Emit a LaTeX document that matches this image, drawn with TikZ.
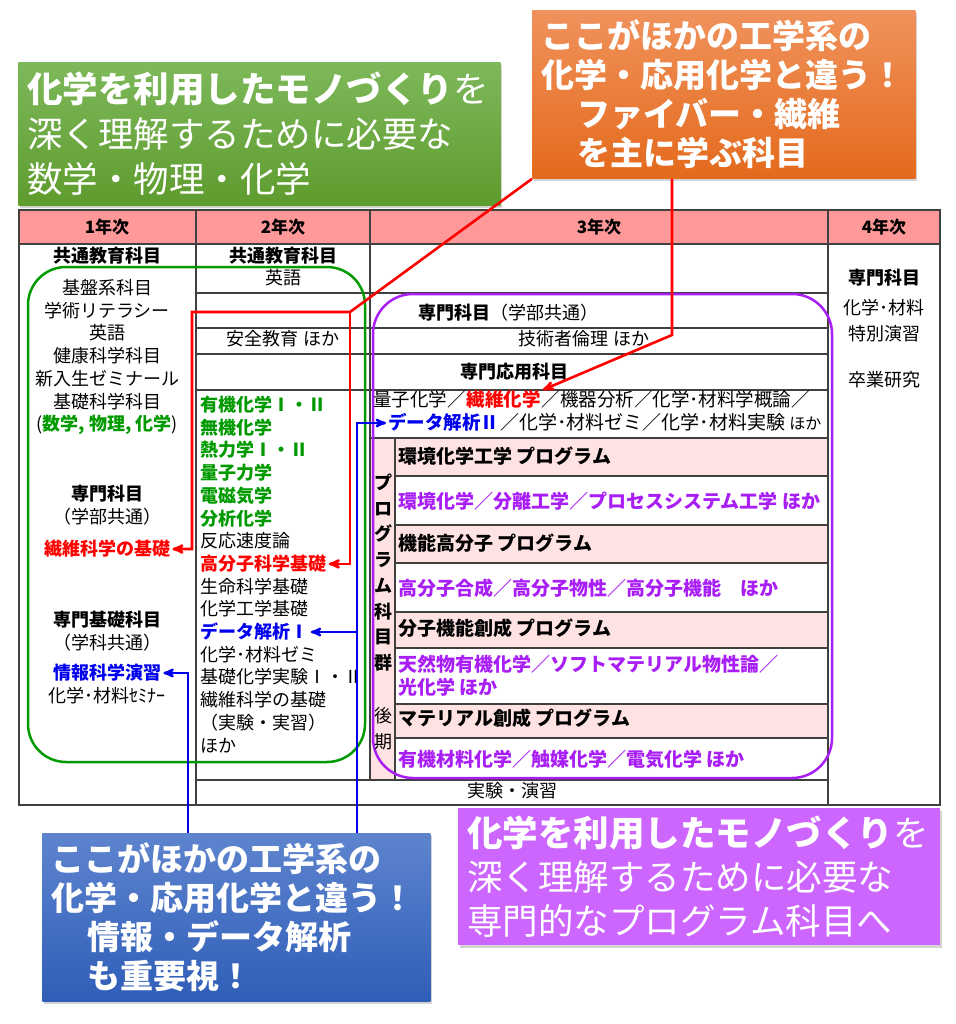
\documentclass[tikz,border=0pt]{standalone}
\usepackage{fontspec}
\setmainfont{Noto Sans CJK JP}
\usetikzlibrary{positioning}
\usetikzlibrary{shadows}
\usetikzlibrary{arrows}

\definecolor{hdrpink}{HTML}{FF9999}
\definecolor{rowpink}{HTML}{FFE3E3}
\definecolor{gridgray}{HTML}{404040}
\definecolor{kgreen}{HTML}{009A00}
\definecolor{kblue}{HTML}{0000EE}
\definecolor{kred}{HTML}{FF0000}
\definecolor{kpurple}{HTML}{A81EF5}
\definecolor{grtop}{HTML}{7DB85A}
\definecolor{grbot}{HTML}{5E9C2E}
\definecolor{ortop}{HTML}{F0925C}
\definecolor{orbot}{HTML}{E46A1C}
\definecolor{bltop}{HTML}{5E84CE}
\definecolor{blbot}{HTML}{2F5EB8}
\definecolor{kviolet}{HTML}{CC66FF}

\newcommand{\gb}[1]{\textbf{\color{kgreen}#1}}
\newcommand{\rb}[1]{\textbf{\color{kred}#1}}
\newcommand{\bb}[1]{\textbf{\color{kblue}#1}}

\begin{document}
\begin{tikzpicture}[x=1pt,y=-1pt,>=stealth',node distance=22.7pt,
	thick,
	entry/.style={font=\fontsize{18}{22}\selectfont,inner sep=0pt,text height=15.5pt,text depth=2.5pt},
	bold entry/.style={entry,font=\fontsize{18}{22}\selectfont\bfseries},
	head/.style={entry,font=\fontsize{17}{22}\selectfont\bfseries},
	list/.style={entry,anchor=west},
	prog/.style={entry,anchor=west,font=\fontsize{19}{22}\selectfont\bfseries},
	course/.style={prog,text=kpurple},
	grid/.style={draw=gridgray,line width=1.1pt},
	callout/.style={rectangle,text=white,align=left,inner xsep=9pt,inner ysep=0pt,
		anchor=north west,drop shadow={opacity=0.35,shadow xshift=2pt,shadow yshift=-3pt}},
	redline/.style={draw=kred,line width=2.6pt,shorten >=2pt},
	blueline/.style={draw=kblue,line width=2.4pt,shorten >=2pt}]

	\useasboundingbox (0,0) rectangle (955,1024);

	% table background
	\fill[hdrpink] (19,210) rectangle (940,244);
	\fill[rowpink] (370,438) rectangle (395,780);
	\fill[rowpink] (395,438) rectangle (828,476);
	\fill[rowpink] (395,525) rectangle (828,563);
	\fill[rowpink] (395,612) rectangle (828,648);
	\fill[rowpink] (395,704) rectangle (828,738);

	% table grid
	\draw[grid] (19,210) rectangle (940,805);
	\draw[grid] (19,244) -- (940,244);
	\draw[grid] (196,210) -- (196,805);
	\draw[grid] (370,210) -- (370,780);
	\draw[grid] (828,210) -- (828,805);
	\draw[grid] (196,780) -- (828,780);
	\draw[grid] (196,293) -- (828,293) (196,328) -- (828,328)
		(196,354) -- (828,354) (196,390) -- (828,390);
	\draw[grid] (370,438) -- (828,438);
	\draw[grid] (395,438) -- (395,780);
	\draw[grid] (395,476) -- (828,476) (395,525) -- (828,525)
		(395,563) -- (828,563) (395,612) -- (828,612)
		(395,648) -- (828,648) (395,704) -- (828,704)
		(395,738) -- (828,738);

	% rounded groups
	\draw[draw=kgreen,line width=2.5pt,rounded corners=38pt] (28,267) rectangle (365,762);
	\draw[draw=kpurple,line width=2.5pt,rounded corners=40pt] (373,294) rectangle (832,778);

	% header
	\node[head] (h1) at (107,227) {1年次};
	\node[head] (h2) at (283,227) {2年次};
	\node[head] (h3) at (599,227) {3年次};
	\node[head] (h4) at (884,227) {4年次};

	% 1st year
	\node[bold entry] (k1) at (107,256) {共通教育科目};
	\node[entry] (k2) at (107,288) {基盤系科目};
	\node[entry] (k3) [below of=k2] {学術リテラシー};
	\node[entry] (k4) [below of=k3] {英語};
	\node[entry] (k5) [below of=k4] {健康科学科目};
	\node[entry] (k6) [below of=k5] {新入生ゼミナール};
	\node[entry] (k7) [below of=k6] {基礎科学科目};
	\node[entry] (k8) [below of=k7] {(\gb{数学, 物理, 化学})};
	\node[bold entry] (sm1) at (107,494) {専門科目};
	\node[entry] (sm2) [below of=sm1] {（学部共通）};
	\node[entry] (sen1) at (107,549) {\rb{繊維科学の基礎}};
	\node[bold entry] (sk1) at (107,620) {専門基礎科目};
	\node[entry] (sk2) [below of=sk1] {（学科共通）};
	\node[entry] (jh) at (107,673) {\bb{情報科学演習}};
	\node[entry] (sk3) [below of=jh] {化学･材料ｾﾐﾅｰ};

	% 2nd year
	\node[bold entry] (n1) at (283,256) {共通教育科目};
	\node[entry] (n2) at (283,278) {英語};
	\node[entry] (n3) at (283,339) {安全教育 ほか};
	\node[list] (s1) at (200,405) {\gb{有機化学Ⅰ・Ⅱ}};
	\node[list] (s2) [below=of s1.west,anchor=west] {\gb{無機化学}};
	\node[list] (s3) [below=of s2.west,anchor=west] {\gb{熱力学Ⅰ・Ⅱ}};
	\node[list] (s4) [below=of s3.west,anchor=west] {\gb{量子力学}};
	\node[list] (s5) [below=of s4.west,anchor=west] {\gb{電磁気学}};
	\node[list] (s6) [below=of s5.west,anchor=west] {\gb{分析化学}};
	\node[list] (s7) [below=of s6.west,anchor=west] {反応速度論};
	\node[list] (kob) [below=of s7.west,anchor=west] {\rb{高分子科学基礎}};
	\node[list] (s9) [below=of kob.west,anchor=west] {生命科学基礎};
	\node[list] (s10) [below=of s9.west,anchor=west] {化学工学基礎};
	\node[list] (dk1) [below=of s10.west,anchor=west] {\bb{データ解析Ⅰ}};
	\node[list] (s12) [below=of dk1.west,anchor=west] {化学･材料ゼミ};
	\node[list] (s13) [below=of s12.west,anchor=west] {基礎化学実験Ⅰ・Ⅱ};
	\node[list] (s14) [below=of s13.west,anchor=west] {繊維科学の基礎};
	\node[list] (s15) [below=of s14.west,anchor=west] {（実験・実習）};
	\node[list] (s16) [below=of s15.west,anchor=west] {ほか};
	\node[entry] (ex) at (512,791) {実験・演習};

	% 3rd year
	\node[list] (g1) at (418,313) {\textbf{専門科目}（学部共通）};
	\node[entry] (g2) at (584,339) {技術者倫理 ほか};
	\node[bold entry] (g3) at (514,372) {専門応用科目};
	\node[list,font=\fontsize{18.5}{22}\selectfont] (q1) at (373,400) {量子化学／};
	\node[entry,font=\fontsize{18.5}{22}\selectfont,right=0pt of q1] (senk) {\rb{繊維化学}};
	\node[entry,font=\fontsize{18.5}{22}\selectfont,right=0pt of senk] (q2) {／機器分析／化学･材料学概論／};
	\node[list,font=\fontsize{18.5}{22}\selectfont] (dk2) at (388,423) {\bb{データ解析Ⅱ}};
	\node[entry,font=\fontsize{19}{22}\selectfont,right=0pt of dk2] (q3) {／化学･材料ゼミ／化学･材料実験 {\fontsize{16}{18}\selectfont ほか}};

	% program group label
	\begin{scope}[node distance=25.7pt]
	\node[bold entry] (p1) at (383,483) {プ};
	\node[bold entry] (p2) [below of=p1] {ロ};
	\node[bold entry] (p3) [below of=p2] {グ};
	\node[bold entry] (p4) [below of=p3] {ラ};
	\node[bold entry] (p5) [below of=p4] {ム};
	\node[bold entry] (p6) [below of=p5] {科};
	\node[bold entry] (p7) [below of=p6] {目};
	\node[bold entry] (p8) [below of=p7] {群};
	\node[entry] (z1) at (383,716) {後};
	\node[entry] (z2) [below of=z1] {期};
	\end{scope}

	% programs
	\node[prog] (r1) at (398,457) {環境化学工学 プログラム};
	\node[course] (r2) at (398,502) {環境化学／分離工学／プロセスシステム工学 ほか};
	\node[prog] (r3) at (398,544) {機能高分子 プログラム};
	\node[course] (r4) at (398,589) {高分子合成／高分子物性／高分子機能　ほか};
	\node[prog] (r5) at (398,629) {分子機能創成 プログラム};
	\node[course] (r6) at (398,665) {天然物有機化学／ソフトマテリアル物性論／};
	\node[course] (r7) [below=of r6.west,anchor=west] {光化学 ほか};
	\node[prog] (r8) at (398,719) {マテリアル創成 プログラム};
	\node[course] (r9) at (398,760) {有機材料化学／触媒化学／電気化学 ほか};

	% 4th year
	\node[bold entry] (y1) at (884,278) {専門科目};
	\node[entry] (y2) at (884,308) {化学･材料};
	\node[entry] (y3) at (884,334) {特別演習};
	\node[entry] (y4) at (884,380) {卒業研究};

	% callouts
	\node[callout,top color=grtop,bottom color=grbot,text width=464pt,minimum height=143pt,
		font=\fontsize{35.5}{45}\selectfont] (grbox) at (18,62)
		{\textbf{化学を利用したモノづくり}を\\深く理解するために必要な\\数学・物理・化学};
	\node[callout,top color=ortop,bottom color=orbot,text width=365pt,minimum height=168pt,
		font=\fontsize{33}{39}\selectfont\bfseries] (orbox) at (532,10)
		{ここがほかの工学系の\\化学・応用化学と違う！\\\hspace*{36pt}ファイバー・繊維\\\hspace*{36pt}を主に学ぶ科目};
	\node[callout,top color=bltop,bottom color=blbot,text width=370pt,minimum height=168pt,
		font=\fontsize{33}{39}\selectfont\bfseries] (blbox) at (42,833)
		{ここがほかの工学系の\\化学・応用化学と違う！\\\hspace*{36pt}情報・データ解析\\\hspace*{36pt}も重要視！};
	\node[callout,fill=kviolet,text width=464pt,minimum height=137pt,
		font=\fontsize{35.5}{44}\selectfont] (pubox) at (458,808)
		{\textbf{化学を利用したモノづくり}を\\深く理解するために必要な\\専門的なプログラム科目へ};

	% connectors
	\coordinate (rj) at (350,312);
	\coordinate (rk) at (192,312);
	\coordinate (rv) at (672,335);
	\coordinate (bv1) at (188,700);
	\coordinate (bv2) at (357,700);
	\draw[redline,->] (orbox.south west) -- (rj) -- (rk) |- (sen1.east);
	\draw[redline,->] (rj) |- (kob.east);
	\draw[redline,->] (orbox.south -| rv) -- (rv) -- (senk.north east);
	\draw[blueline,->] (blbox.north -| bv1) |- (jh.east);
	\draw[blueline,->] (blbox.north -| bv2) |- (dk2.west);
	\draw[blueline,->] (dk1.east -| bv2) -- (dk1.east);
\end{tikzpicture}
\end{document}
